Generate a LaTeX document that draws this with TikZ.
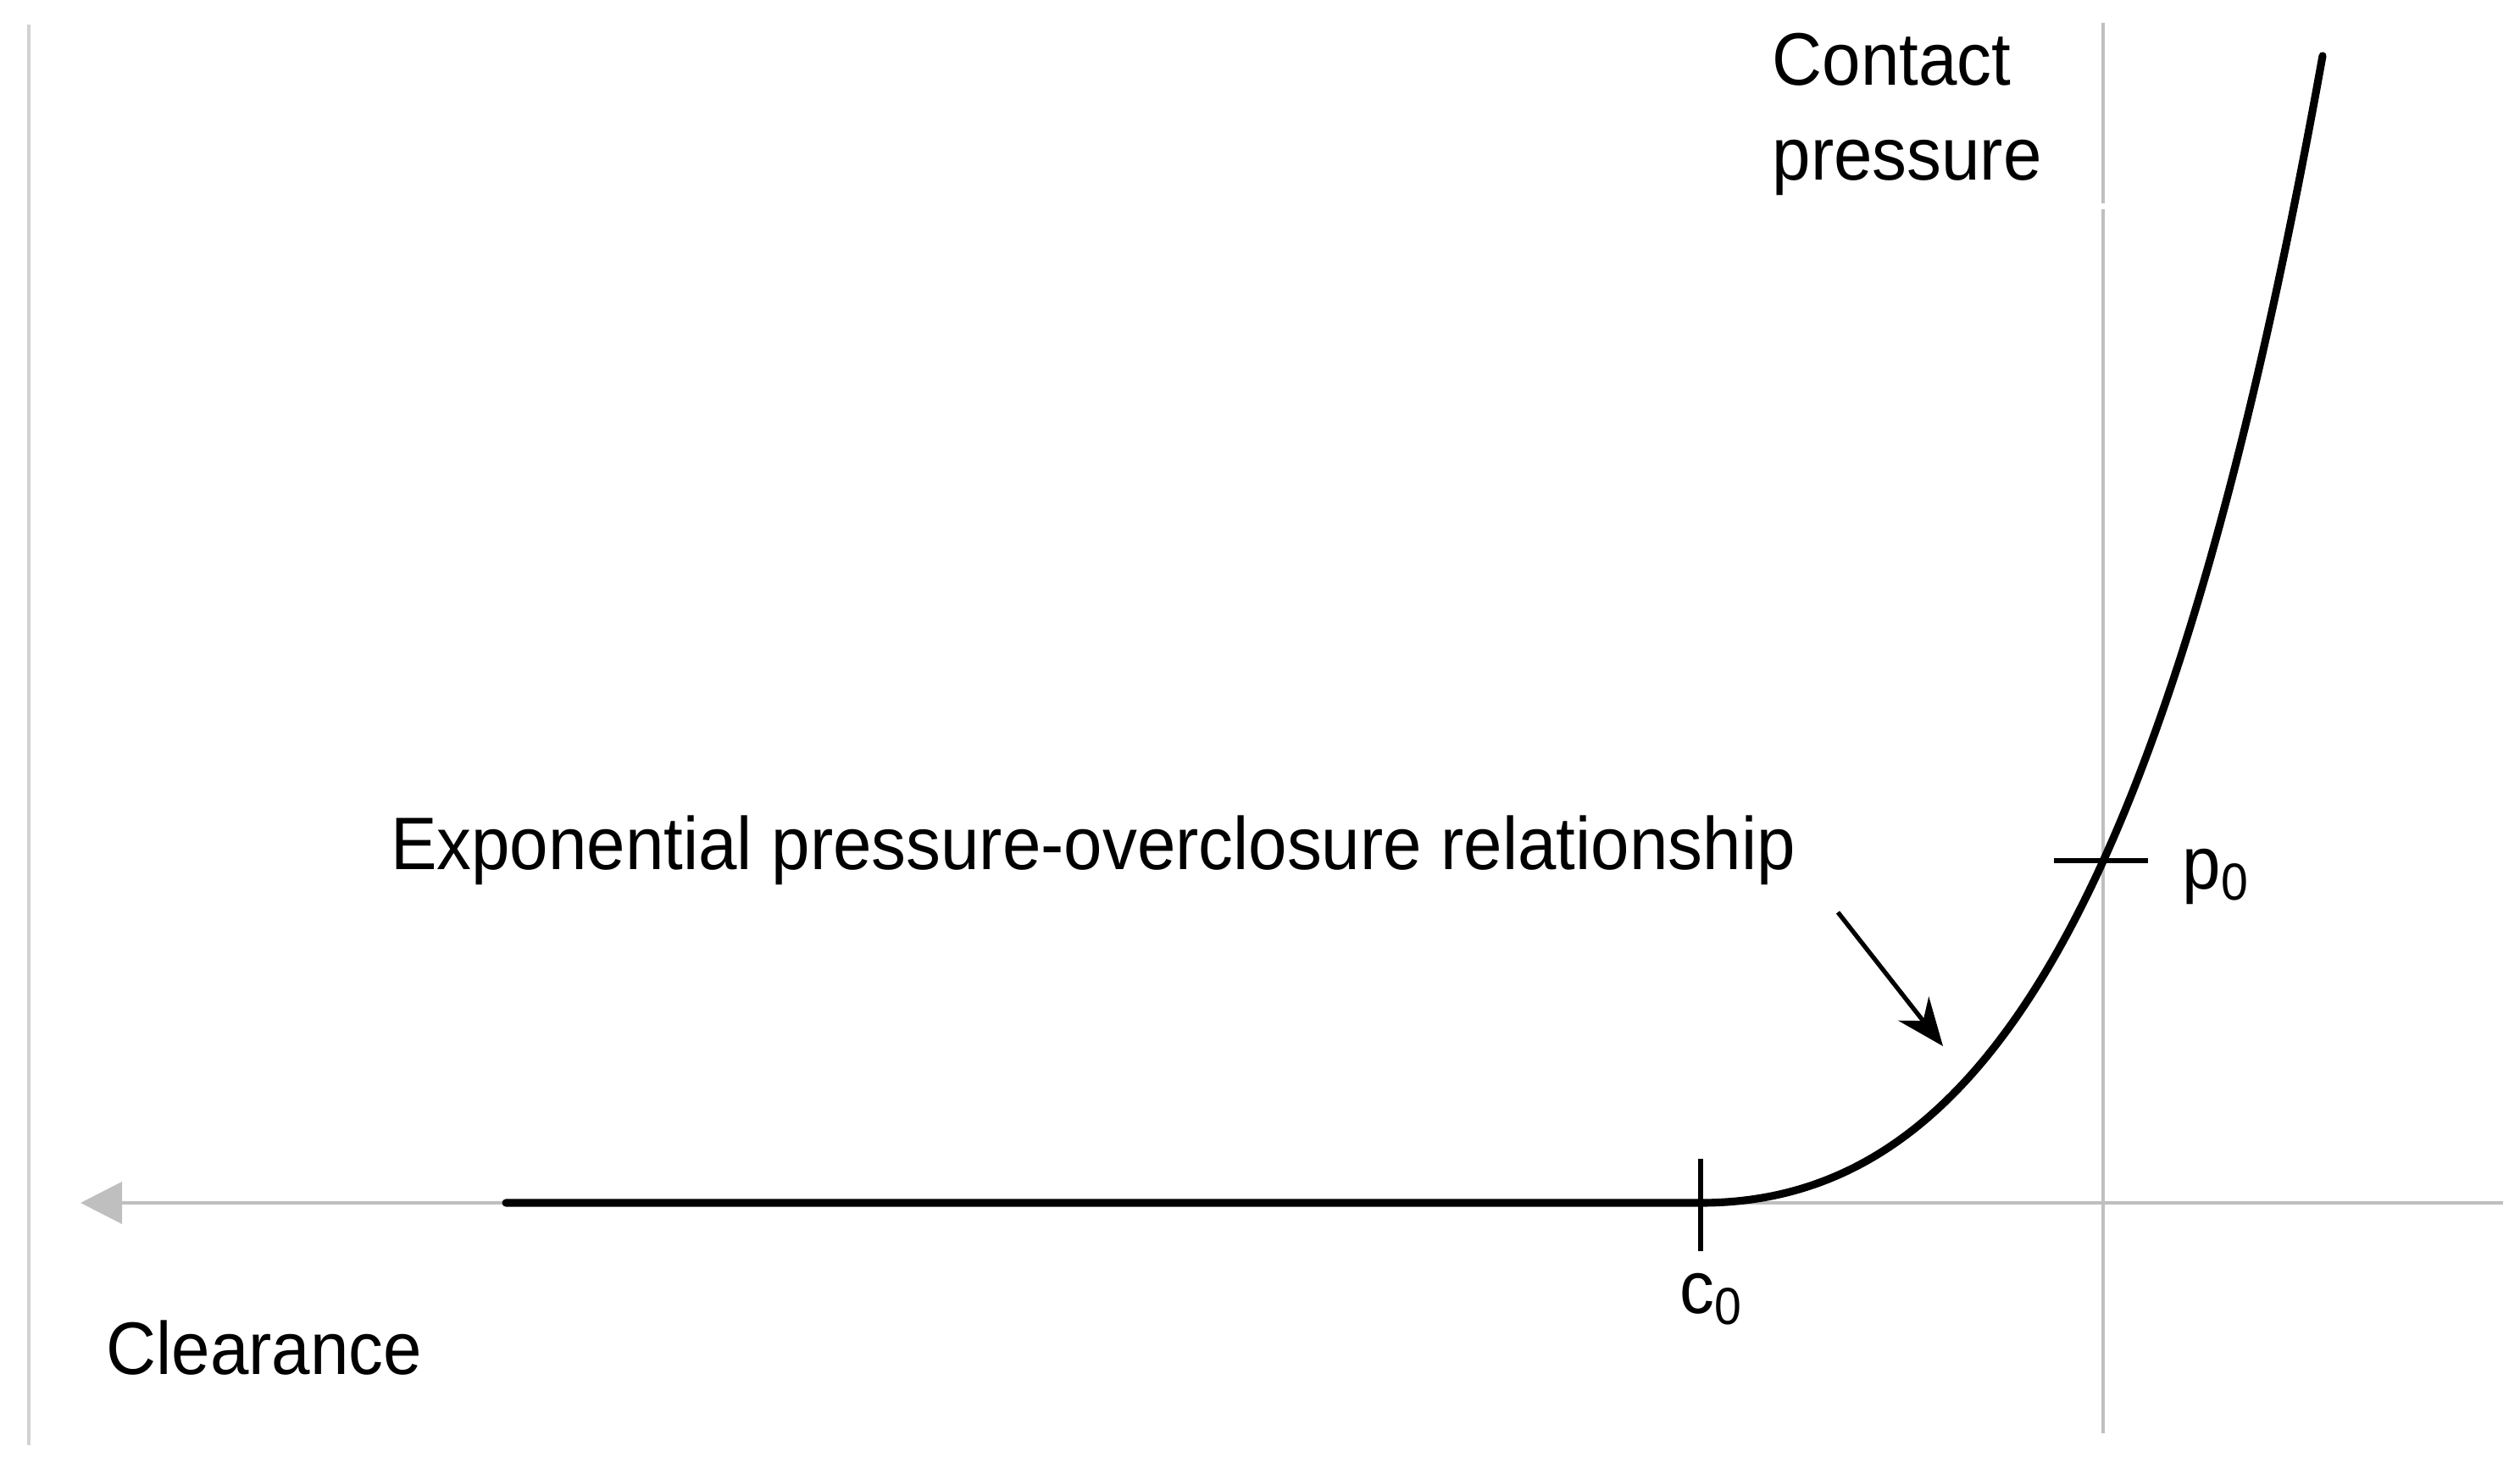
\documentclass[tikz,border=0pt]{standalone}
\usepackage{fontspec}
\setmainfont{Liberation Sans}
\usetikzlibrary{arrows.meta}
\begin{document}
\begin{tikzpicture}[x=1cm,y=1cm,
  axis/.style={draw=axisgrey,line width=1.2pt},
  curve/.style={line width=2.6pt,black},
  lbl/.style={font=\fontsize{25}{30}\selectfont,inner sep=0pt,align=left,xscale=0.93,transform shape}]
\definecolor{axisgrey}{HTML}{BFBFBF}
\useasboundingbox (0,0) rectangle (29.74,17.32);
% frame line at left
\coordinate (fl1) at (0.34,17.03);
\coordinate (fl2) at (0.34,0.26);
\draw[draw=axisgrey!70,line width=1.2pt] (fl1) -- (fl2);
% horizontal axis
\coordinate (hR) at (29.54,3.12);
\coordinate (hL) at (0.95,3.12);
\draw[axis,-{Triangle[length=14pt,width=14pt]}] (hR) -- (hL);
% vertical axis (two pieces)
\coordinate (v1) at (24.82,17.05);
\coordinate (v2) at (24.82,14.92);
\coordinate (v3) at (24.82,14.85);
\coordinate (v4) at (24.82,0.40);
\draw[axis] (v1) -- (v2);
\draw[axis] (v3) -- (v4);
% curve
\coordinate (cs) at (5.97,3.12);
\coordinate (c0) at (20.07,3.12);
\draw[curve,line cap=round] (cs) -- (c0)
  -- plot[domain=0:7.34,samples=80,smooth] ({20.07+\x},{3.12+2.39*(exp(0.297*\x)-1-0.297*\x)});
% ticks
\coordinate (ct1) at (20.07,3.64);
\coordinate (ct2) at (20.07,2.55);
\draw[line width=1.5pt] (ct1) -- (ct2);
\coordinate (pt1) at (24.24,7.16);
\coordinate (pt2) at (25.35,7.16);
\draw[line width=1.5pt] (pt1) -- (pt2);
% labels
\node[lbl,anchor=west] (cp) at (20.91,15.97) {Contact\\[2pt]pressure};
\node[lbl] (clr) at (3.12,1.41) {Clearance};
\node[lbl] (exp) at (12.90,7.28) {Exponential pressure-overclosure relationship};
\node[lbl] (c0l) at (20.20,1.98) {c\textsubscript{0}};
\node[lbl] (p0l) at (26.15,6.97) {p\textsubscript{0}};
% pointer arrow
\coordinate (a1) at (21.69,6.55);
\coordinate (a2) at (22.93,4.97);
\draw[line width=1.5pt,-{Stealth[length=16pt,width=13pt]}] (a1) -- (a2);
\end{tikzpicture}
\end{document}
